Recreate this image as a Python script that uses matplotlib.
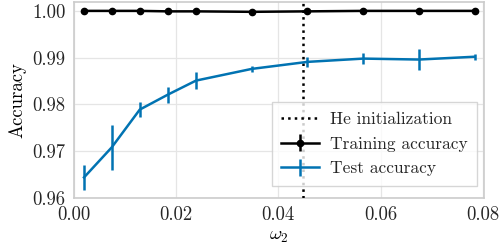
import matplotlib
matplotlib.use("Agg")
import matplotlib.pyplot as plt

# datos
omega2 = [0.0020, 0.0074, 0.0129, 0.0184, 0.0239, 0.0348, 0.0457, 0.0566, 0.0675, 0.0784]
train_acc = [1.0000, 1.0000, 1.0000, 0.9999, 0.9999, 0.9998, 0.9999, 1.0000, 1.0000, 1.0000]
train_err = [0.0001, 0.0001, 0.0001, 0.0001, 0.0001, 0.0001, 0.0001, 0.0001, 0.0001, 0.0001]
test_acc = [0.9644, 0.9708, 0.9789, 0.9821, 0.9851, 0.9876, 0.9891, 0.9898, 0.9896, 0.9902]
test_err = [0.0026, 0.0049, 0.0016, 0.0017, 0.0018, 0.0006, 0.0010, 0.0011, 0.0023, 0.0006]
he_init = 0.0449

plt.rcParams["font.family"] = "serif"
plt.rcParams["font.serif"] = ["cmr10"]
plt.rcParams["mathtext.fontset"] = "cm"
plt.rcParams["axes.formatter.use_mathtext"] = True
plt.rcParams["font.size"] = 13.5
plt.rcParams["text.color"] = "#262626"
plt.rcParams["xtick.color"] = "#262626"
plt.rcParams["ytick.color"] = "#262626"

fig = plt.figure(figsize=(5.02, 2.5), dpi=100)
ax = fig.add_axes([0.147, 0.208, 0.817, 0.784])

ax.axvline(he_init, color="black", linestyle=":", linewidth=1.8, label="He initialization", zorder=3)
ax.errorbar(omega2, train_acc, yerr=train_err, color="black", marker="o", markersize=4.5,
            linewidth=1.8, elinewidth=1.8, label="Training accuracy", zorder=4)
ax.errorbar(omega2, test_acc, yerr=test_err, color="#0173b2", linewidth=1.8,
            elinewidth=1.8, label="Test accuracy", zorder=4)

ax.set_xlim(0, 0.0802)
ax.set_ylim(0.96, 1.0019)
ax.set_xticks([0.00, 0.02, 0.04, 0.06, 0.08])
ax.set_yticks([0.96, 0.97, 0.98, 0.99, 1.00])
ax.set_xticklabels(["0.00", "0.02", "0.04", "0.06", "0.08"])
ax.set_yticklabels(["0.96", "0.97", "0.98", "0.99", "1.00"])
ax.set_xlabel(r"$\omega_2$", labelpad=2)
ax.set_ylabel("Accuracy", labelpad=4)
ax.grid(True, color="#e5e5e5", linewidth=0.9)
ax.set_axisbelow(True)
for s in ax.spines.values():
    s.set_color("#cccccc")
    s.set_linewidth(1.2)
ax.tick_params(length=0, pad=6)

leg = ax.legend(loc="lower right", bbox_to_anchor=(0.983, 0.061), borderaxespad=0,
                fancybox=False, framealpha=0.8, edgecolor="#cccccc",
                handlelength=2.2, fontsize=12.5, borderpad=0.55,
                labelspacing=0.55, handletextpad=0.6)

fig.savefig("out.png", dpi=100)
